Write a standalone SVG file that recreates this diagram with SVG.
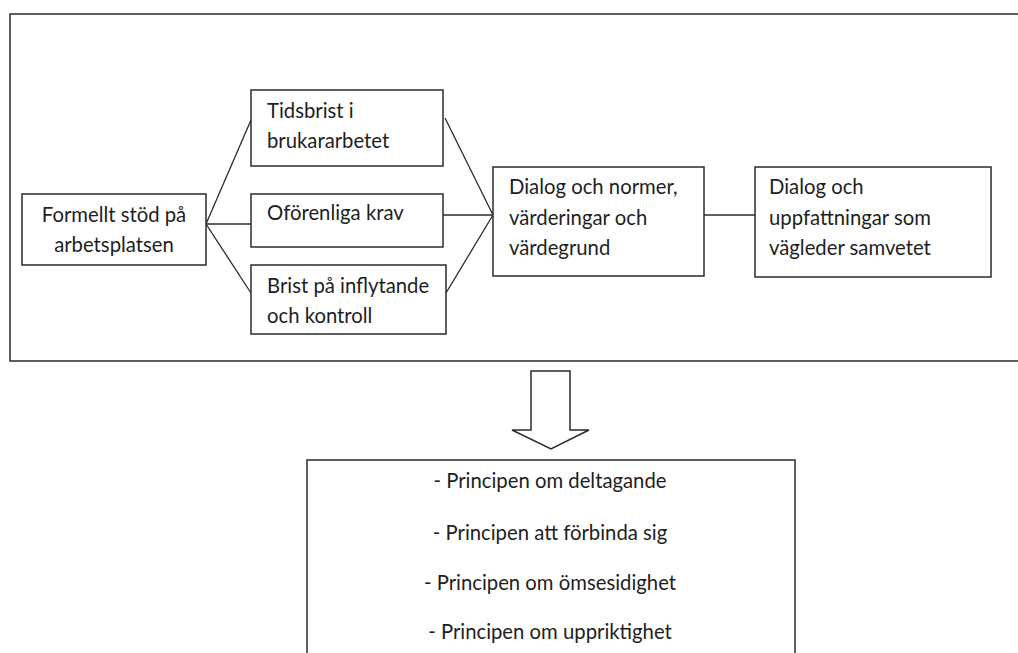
<svg xmlns="http://www.w3.org/2000/svg" width="1018" height="653" viewBox="0 0 1018 653">
<style>
.box{fill:#fff;stroke:#2b2b2b;stroke-width:1.5}
.ln{fill:none;stroke:#2b2b2b;stroke-width:1.3}
text{font-family:"Lato","Liberation Sans",sans-serif;font-size:20.3px;fill:#1e1e1e}
.c{text-anchor:middle}
</style>
<rect width="1018" height="653" fill="#fff"/>
<g id="frame"><path class="box" d="M1020,14 H10 V361 H1020" fill="none"/></g>
<g id="connectors">
<line class="ln" x1="206" y1="224" x2="251" y2="120"/>
<line class="ln" x1="206" y1="224" x2="251" y2="224"/>
<line class="ln" x1="206" y1="224" x2="251" y2="293"/>
<line class="ln" x1="445" y1="118" x2="493" y2="215"/>
<line class="ln" x1="443" y1="215" x2="493" y2="215"/>
<line class="ln" x1="446" y1="293" x2="493" y2="215"/>
<line class="ln" x1="704" y1="215" x2="755" y2="215"/>
</g>
<g id="n-formellt"><rect class="box" x="22" y="194" width="184" height="71"/>
<text class="c" x="114" y="222">Formellt stöd på</text><text class="c" x="114" y="252">arbetsplatsen</text></g>
<g id="n-tidsbrist"><rect class="box" x="251" y="90" width="192" height="76"/>
<text x="267" y="118">Tidsbrist i</text><text x="267" y="148">brukararbetet</text></g>
<g id="n-oforenliga"><rect class="box" x="251" y="194" width="192" height="53"/>
<text x="267" y="220">Oförenliga krav</text></g>
<g id="n-brist"><rect class="box" x="251" y="265" width="195" height="69"/>
<text x="267" y="293">Brist på inflytande</text><text x="267" y="323">och kontroll</text></g>
<g id="n-dialog1"><rect class="box" x="493" y="167" width="211" height="109"/>
<text x="509" y="194">Dialog och normer,</text><text x="509" y="225">värderingar och</text><text x="509" y="255">värdegrund</text></g>
<g id="n-dialog2"><rect class="box" x="755" y="167" width="236" height="110"/>
<text x="769" y="194">Dialog och</text><text x="769" y="225">uppfattningar som</text><text x="769" y="255">vägleder samvetet</text></g>
<g id="arrow"><path class="box" d="M531,371 H570 V430 H589 L551,449 L512,430 H531 Z" stroke-width="1.3"/></g>
<g id="n-principer"><rect class="box" x="307" y="460" width="488" height="210"/>
<text class="c" x="550" y="488">- Principen om deltagande</text>
<text class="c" x="550" y="540">- Principen att förbinda sig</text>
<text class="c" x="550" y="590">- Principen om ömsesidighet</text>
<text class="c" x="550" y="639">- Principen om uppriktighet</text></g>
</svg>
